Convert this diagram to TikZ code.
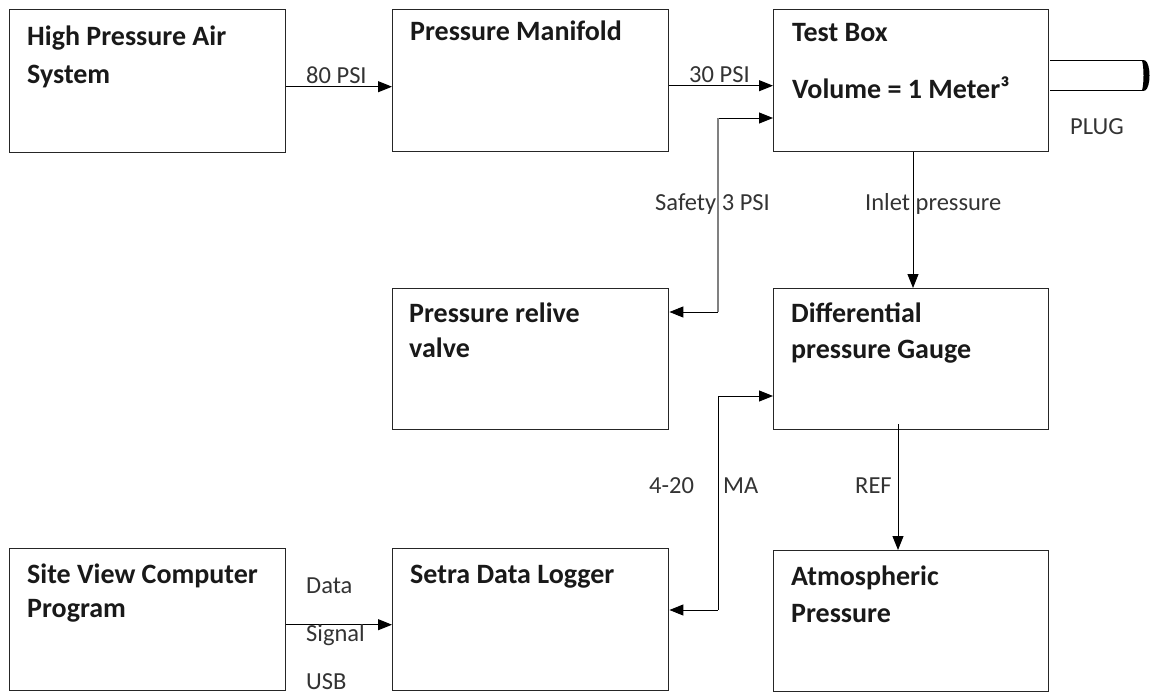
\documentclass[tikz,border=0pt]{standalone}
\usepackage{fontspec}
\setmainfont{Carlito}
\usetikzlibrary{arrows.meta}
\tikzset{
  box/.style={draw=black!85, line width=1.4pt, rectangle, inner sep=0pt, anchor=north west, minimum width=276pt},
  ttl/.style={font=\bfseries\fontsize{28}{36}\selectfont, align=left, anchor=base west, inner sep=0pt, text=black!90},
  lbl/.style={font=\fontsize{24.5}{28}\selectfont, anchor=base west, inner sep=0pt, text=black!80},
  arr/.style={draw=black, line width=1pt, -{Triangle[length=14pt,width=11pt]}},
  ln/.style={draw=black, line width=1pt}
}
\begin{document}
\begin{tikzpicture}[x=1pt,y=-1pt]
\useasboundingbox (0,0) rectangle (1151,693);
% boxes
\node[box, minimum height=143pt] (hpas) at (9,9) {};
\node[box, minimum height=142pt] (pm) at (392,9) {};
\node[box, minimum height=142pt, minimum width=275pt] (tb) at (773,9) {};
\node[box, minimum height=141pt] (prv) at (392,288) {};
\node[box, minimum height=141pt, minimum width=275pt] (dpg) at (773,288) {};
\node[box, minimum height=142pt] (sv) at (9,548) {};
\node[box, minimum height=142pt] (sdl) at (392,548) {};
\node[box, minimum height=141pt, minimum width=275pt] (ap) at (773,550) {};
% titles (base anchor = baseline of last line)
\node[ttl, font=\bfseries\fontsize{28}{38}\selectfont] (thpas) at ([shift={(18,74)}]hpas.north west) {High Pressure Air\\System};
\node[ttl] (tpm) at ([shift={(18,32)}]pm.north west) {Pressure Manifold};
\node[ttl] (ttb) at ([shift={(19,89)}]tb.north west) {Test Box\\[20pt]Volume = 1 Meter³};
\node[ttl, font=\bfseries\fontsize{28}{35}\selectfont] (tprv) at ([shift={(17,69)}]prv.north west) {Pressure relive\\valve};
\node[ttl] (tdpg) at ([shift={(18,70)}]dpg.north west) {Differential\\pressure Gauge};
\node[ttl, font=\bfseries\fontsize{28}{34}\selectfont] (tsv) at ([shift={(18,69)}]sv.north west) {Site View Computer\\Program};
\node[ttl] (tsdl) at ([shift={(18,35)}]sdl.north west) {Setra Data Logger};
\node[ttl, font=\bfseries\fontsize{28}{37}\selectfont] (tap) at ([shift={(18,72)}]ap.north west) {Atmospheric\\Pressure};
% helper coordinates
\coordinate (s1) at (718,118);
\coordinate (s2) at (718,312);
\coordinate (m1) at (718,396);
\coordinate (m2) at (718,610);
\coordinate (ix) at (913,0);
\coordinate (rx) at (898,0);
% connectors
\draw[arr] ([yshift=-5.5pt]hpas.east) -- ([yshift=-5.5pt]hpas.east -| pm.west);
\draw[arr] ([yshift=-5pt]pm.east) -- ([yshift=-5pt]pm.east -| tb.west);
\draw[arr] (s1) -- (s1 -| tb.west);
\draw[arr] (s2) -- (s2 -| prv.east);
\draw[draw=gray, line width=2.2pt] (s1) -- (s2);
\draw[arr] (tb.south -| ix) -- (dpg.north -| ix);
\draw[arr] (m1) -- (m1 -| dpg.west);
\draw[arr] (m2) -- (m2 -| sdl.east);
\draw[ln] (m1) -- (m2);
\draw[arr] ([yshift=6pt]dpg.south -| rx) -- (ap.north -| rx);
\draw[arr] ([yshift=-5pt]sv.east) -- ([yshift=-5pt]sv.east -| sdl.west);
% plug
\coordinate (p1) at (1050,61);
\coordinate (p2) at (1050,90);
\draw[ln] (p1) -- (1144,61);
\draw[ln] (p2) -- (1144,90);
\fill (1142,60.5) -- (1145,60.5) .. controls (1151,63) and (1151,88) .. (1145,90.5) -- (1142,90.5) .. controls (1144,84) and (1144,67) .. (1142,60.5);
% labels
\node[lbl] (l80) at (306,83) {80 PSI};
\node[lbl] (l30) at (689,82) {30 PSI};
\node[lbl] (lsafe) at (655,210) {Safety 3 PSI};
\node[lbl] (linlet) at (865,210) {Inlet pressure};
\node[lbl] (l420) at (649,493) {4-20};
\node[lbl] (lma) at (723,493) {MA};
\node[lbl] (lref) at (855,493) {REF};
\node[lbl] (ldata) at (306,593) {Data};
\node[lbl] (lsig) at (306,641) {Signal};
\node[lbl] (lusb) at (306,689) {USB};
\node[lbl] (lplug) at (1070,134) {PLUG};
\end{tikzpicture}
\end{document}
